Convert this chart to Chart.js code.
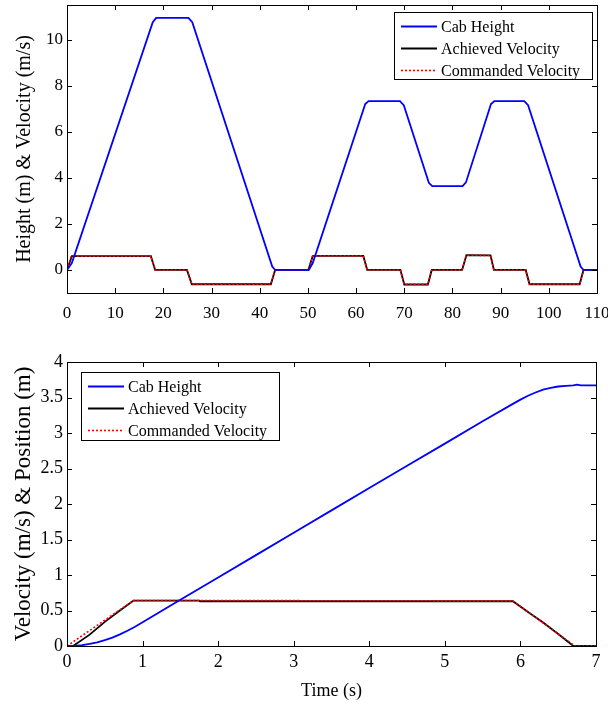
<!DOCTYPE html>
<html>
<head>
<meta charset="utf-8">
<title>Elevator cab profile</title>
<script src="https://cdn.jsdelivr.net/npm/chart.js@4.4.1/dist/chart.umd.min.js"></script>
<style>
  body { margin: 0; background: #fff; width: 608px; height: 704px; position: relative; overflow: hidden; }
  .plot { position: absolute; left: 0; width: 608px; }
  #tripBox { top: 0; height: 320px; }
  #moveBox { top: 320px; height: 384px; }
</style>
</head>
<body>
<div class="plot" id="tripBox"><canvas id="tripChart"></canvas></div>
<div class="plot" id="moveBox"><canvas id="moveChart"></canvas></div>
<script>
// ---- full trip (0-110 s) ----
// cab height breakpoints
var tripTime   = [0, 1.0, 17.8, 18.5, 25.2, 26.0, 42.6, 43.2, 50.2, 51.0, 61.9, 62.6, 69.1, 69.9, 75.1, 75.8, 82.1, 82.8, 88.0, 88.7, 94.9, 95.7, 106.6, 107.2, 110];
var tripHeight = [0, 0.3, 10.75, 10.94, 10.94, 10.75, 0.15, 0, 0, 0.3, 7.2, 7.33, 7.33, 7.15, 3.78, 3.64, 3.64, 3.8, 7.2, 7.33, 7.33, 7.15, 0.15, 0, 0];
// velocity breakpoints (achieved and commanded track each other)
var tripVelTime      = [0, 1.0, 17.4, 18.3, 24.9, 25.9, 42.3, 43.2, 50.1, 51.0, 61.5, 62.3, 69.2, 70.0, 74.9, 75.7, 82.0, 82.9, 87.9, 88.6, 95.2, 96.0, 106.4, 107.2, 110];
var tripVelAchieved  = [0, 0.6, 0.6, 0, 0, -0.62, -0.62, 0, 0, 0.61, 0.61, 0, 0, -0.63, -0.63, 0, 0, 0.64, 0.63, 0, 0, -0.62, -0.62, 0, 0];
var tripCmdTime      = [0, 0.9, 17.4, 18.3, 24.9, 25.9, 42.3, 43.2, 50.1, 51.0, 61.5, 62.3, 69.2, 70.0, 74.9, 75.7, 82.0, 82.9, 87.9, 88.6, 95.2, 96.0, 106.4, 107.2, 110];
var tripVelCommanded = [0, 0.6, 0.6, 0, 0, -0.62, -0.62, 0, 0, 0.61, 0.61, 0, 0, -0.63, -0.63, 0, 0, 0.64, 0.63, 0, 0, -0.62, -0.62, 0, 0];
var tripXTicks = [0, 10, 20, 30, 40, 50, 60, 70, 80, 90, 100, 110];
var tripYTicks = [0, 2, 4, 6, 8, 10];

// ---- single move 0 -> 3.67 m ----
var moveTime   = [0, 0.1, 0.2, 0.3, 0.4, 0.5, 0.6, 0.7, 0.8, 0.9, 1.0, 1.5, 2.0, 2.5, 3.0, 3.5, 4.0, 4.5, 5.0, 5.5, 5.9, 6.0, 6.1, 6.2, 6.3, 6.4, 6.5, 6.6, 6.7, 6.75, 6.8, 6.9, 7.0];
var moveHeight = [0, 0.003, 0.012, 0.029, 0.052, 0.082, 0.119, 0.163, 0.214, 0.272, 0.334, 0.65, 0.965, 1.28, 1.595, 1.91, 2.225, 2.54, 2.85, 3.165, 3.41, 3.47, 3.525, 3.57, 3.61, 3.635, 3.655, 3.665, 3.67, 3.68, 3.67, 3.67, 3.67];
var moveVelTime      = [0, 0.08, 0.3, 0.5, 0.7, 0.88, 1.75, 1.76, 5.9, 6.1, 6.3, 6.5, 6.7, 7.0];
var moveVelAchieved  = [0, 0, 0.16, 0.34, 0.5, 0.64, 0.64, 0.63, 0.63, 0.48, 0.33, 0.17, 0, 0];
var moveCmdTime      = [0, 0.88, 1.75, 5.9, 6.72, 7.0];
var moveVelCommanded = [0, 0.64, 0.64, 0.635, 0, 0];
var moveXTicks = [0, 1, 2, 3, 4, 5, 6, 7];
var moveYTicks = [0, 0.5, 1, 1.5, 2, 2.5, 3, 3.5, 4];

var SERIF = "'Liberation Serif', 'Times New Roman', serif";

function pts(xs, ys) {
    return xs.map(function (x, i) { return { x: x, y: ys[i] }; });
}

function series(label, xs, ys, color, width, dash, order) {
    return {
        label: label,
        data: pts(xs, ys),
        borderColor: color,
        borderWidth: width,
        borderDash: dash,
        pointRadius: 0,
        tension: 0,
        fill: false,
        order: order
    };
}

// black frame round the plot area with inward tick marks on all four sides
var boxAxes = {
    id: 'boxAxes',
    afterDraw: function (chart) {
        var ctx = chart.ctx, a = chart.chartArea;
        var xs = chart.scales.x, ys = chart.scales.y;
        var tl = 5;
        ctx.save();
        ctx.strokeStyle = '#000';
        ctx.lineWidth = 1;
        ctx.beginPath();
        xs.ticks.forEach(function (t) {
            var px = Math.round(xs.getPixelForValue(t.value)) + 0.5;
            ctx.moveTo(px, a.bottom); ctx.lineTo(px, a.bottom - tl);
            ctx.moveTo(px, a.top); ctx.lineTo(px, a.top + tl);
        });
        ys.ticks.forEach(function (t) {
            var py = Math.round(ys.getPixelForValue(t.value)) + 0.5;
            ctx.moveTo(a.left, py); ctx.lineTo(a.left + tl, py);
            ctx.moveTo(a.right, py); ctx.lineTo(a.right - tl, py);
        });
        ctx.stroke();
        ctx.strokeRect(Math.round(a.left) + 0.5, Math.round(a.top) + 0.5,
                       Math.round(a.right - a.left), Math.round(a.bottom - a.top));
        ctx.restore();
    }
};

// boxed legend drawn inside the plot area
var boxLegend = {
    id: 'boxLegend',
    afterDraw: function (chart, args, opts) {
        var ctx = chart.ctx, a = chart.chartArea;
        var w = opts.width, h = opts.height;
        var left = opts.side === 'right' ? a.right - opts.dx - w : a.left + opts.dx;
        var top = a.top + opts.dy;
        ctx.save();
        ctx.fillStyle = '#fff';
        ctx.fillRect(left, top, w, h);
        ctx.strokeStyle = '#000';
        ctx.lineWidth = 1;
        ctx.strokeRect(Math.round(left) + 0.5, Math.round(top) + 0.5, w, h);
        ctx.font = '16px ' + SERIF;
        ctx.textBaseline = 'middle';
        ctx.textAlign = 'left';
        chart.data.datasets.forEach(function (ds, i) {
            var y = Math.round(top + 13.5 + i * 22) + 0.5;
            ctx.beginPath();
            ctx.strokeStyle = ds.borderColor;
            ctx.lineWidth = ds.borderWidth;
            ctx.setLineDash(ds.borderDash || []);
            ctx.moveTo(left + 7, y);
            ctx.lineTo(left + 43, y);
            ctx.stroke();
            ctx.setLineDash([]);
            ctx.fillStyle = '#000';
            ctx.fillText(ds.label, left + 47, y + 1);
        });
        ctx.restore();
    }
};

function buildChart(id, cfg) {
    var ctx = document.getElementById(id).getContext('2d');
    var xScale = {
        type: 'linear',
        min: cfg.xMin, max: cfg.xMax,
        grid: { display: false, drawTicks: false },
        border: { display: false },
        ticks: {
            color: '#000', padding: cfg.xPad, maxRotation: 0, autoSkip: false,
            font: { family: SERIF, size: cfg.tickSize },
            callback: function (v) { return String(v); }
        },
        afterBuildTicks: function (s) { s.ticks = cfg.xTicks.map(function (v) { return { value: v }; }); },
        afterFit: function (s) { s.height = cfg.xHeight; s.paddingLeft = 0; s.paddingRight = 0; }
    };
    if (cfg.xTitle) {
        xScale.title = {
            display: true, text: cfg.xTitle, color: '#000',
            font: { family: SERIF, size: 18 },
            padding: { top: 0, bottom: 2 }
        };
    }
    return new Chart(ctx, {
        type: 'line',
        data: { datasets: cfg.datasets },
        options: {
            responsive: true,
            maintainAspectRatio: false,
            animation: false,
            events: [],
            devicePixelRatio: 1,
            layout: { padding: { left: 0, top: cfg.padTop, right: cfg.padRight, bottom: 0 } },
            plugins: {
                legend: { display: false },
                tooltip: { enabled: false },
                boxLegend: cfg.legend
            },
            scales: {
                x: xScale,
                y: {
                    type: 'linear',
                    min: cfg.yMin, max: cfg.yMax,
                    grid: { display: false, drawTicks: false },
                    border: { display: false },
                    ticks: {
                        color: '#000', padding: 4,
                        font: { family: SERIF, size: cfg.tickSize },
                        callback: function (v) { return String(v); }
                    },
                    title: {
                        display: true, text: cfg.yTitle, color: '#000',
                        font: { family: SERIF, size: cfg.yTitleSize },
                        padding: { top: cfg.yTitlePad, bottom: 0 }
                    },
                    afterBuildTicks: function (s) { s.ticks = cfg.yTicks.map(function (v) { return { value: v }; }); },
                    afterFit: function (s) { s.width = 67; s.paddingTop = 0; s.paddingBottom = 0; }
                }
            }
        },
        plugins: [boxAxes, boxLegend]
    });
}

buildChart('tripChart', {
    datasets: [
        series('Cab Height', tripTime, tripHeight, '#0000ff', 1.8, [], 0),
        series('Achieved Velocity', tripVelTime, tripVelAchieved, '#000000', 1.8, [], 2),
        series('Commanded Velocity', tripCmdTime, tripVelCommanded, '#ff0000', 1.6, [2, 2], 1)
    ],
    xMin: 0, xMax: 110, yMin: -1, yMax: 11.5,
    xTicks: tripXTicks, yTicks: tripYTicks,
    tickSize: 17, xPad: 10, xHeight: 27,
    padTop: 5, padRight: 11,
    yTitle: 'Height (m) & Velocity (m/s)', yTitleSize: 20, yTitlePad: 13,
    legend: { side: 'right', dx: 5, dy: 7, width: 198, height: 67 }
});

buildChart('moveChart', {
    datasets: [
        series('Cab Height', moveTime, moveHeight, '#0000ff', 1.8, [], 0),
        series('Achieved Velocity', moveVelTime, moveVelAchieved, '#000000', 1.8, [], 2),
        series('Commanded Velocity', moveCmdTime, moveVelCommanded, '#ff0000', 1.6, [2, 2], 1)
    ],
    xMin: 0, xMax: 7, yMin: 0, yMax: 4,
    xTicks: moveXTicks, yTicks: moveYTicks,
    tickSize: 18, xPad: 5, xHeight: 58,
    padTop: 42, padRight: 12,
    xTitle: 'Time (s)',
    yTitle: 'Velocity (m/s) & Position (m)', yTitleSize: 23, yTitlePad: 10,
    legend: { side: 'left', dx: 14, dy: 10, width: 198, height: 68 }
});
</script>
</body>
</html>
